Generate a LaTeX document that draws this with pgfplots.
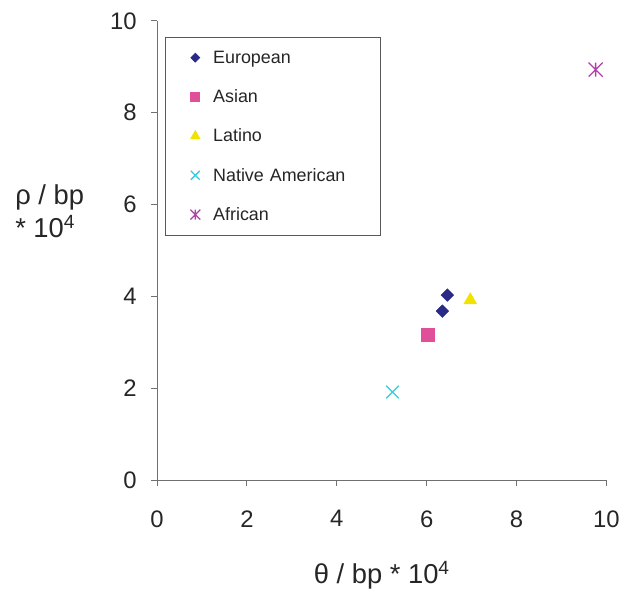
\documentclass[border=0pt]{standalone}
\usepackage{pgfplots}
\pgfplotsset{compat=1.18}
\usepackage{fontspec}
\setmainfont{Liberation Sans}
\definecolor{cEur}{HTML}{2A2A88}
\definecolor{cAsi}{HTML}{E0509A}
\definecolor{cLat}{HTML}{F2E200}
\definecolor{cNat}{HTML}{38C8E0}
\definecolor{cAfr}{HTML}{B040A8}
\definecolor{axgray}{HTML}{707070}
\pgfdeclareplotmark{xstar}{%
  \pgfpathmoveto{\pgfqpoint{-.7071\pgfplotmarksize}{-.7071\pgfplotmarksize}}%
  \pgfpathlineto{\pgfqpoint{.7071\pgfplotmarksize}{.7071\pgfplotmarksize}}%
  \pgfpathmoveto{\pgfqpoint{-.7071\pgfplotmarksize}{.7071\pgfplotmarksize}}%
  \pgfpathlineto{\pgfqpoint{.7071\pgfplotmarksize}{-.7071\pgfplotmarksize}}%
  \pgfpathmoveto{\pgfqpoint{0pt}{-.7071\pgfplotmarksize}}%
  \pgfpathlineto{\pgfqpoint{0pt}{.7071\pgfplotmarksize}}%
  \pgfusepathqstroke}
\begin{document}
\begin{tikzpicture}
\begin{axis}[
  name=ax,
  scale only axis, width=452pt, height=462pt,
  xmin=0, xmax=10, ymin=0, ymax=10,
  xtick={0,2,...,10}, ytick={0,2,...,10},
  axis lines=left, axis line style={-, axgray, line width=1pt},
  tick align=outside, major tick length=6pt,
  tick style={axgray, line width=1pt},
  /pgf/number format/assume math mode=true,
  tick label style={font=\fontsize{24}{28}\selectfont, text=black!85},
  xticklabel style={yshift=-21pt},
  yticklabel style={xshift=-11pt},
  xlabel={θ / bp * 10\textsuperscript{4}},
  xlabel style={font=\fontsize{27.5}{32}\selectfont, text=black!85, at={(axis description cs:0.5,-0.208)}, anchor=center},
  ylabel={ρ / bp\\* 10\textsuperscript{4}},
  ylabel style={font=\fontsize{27.5}{33}\selectfont, text=black!85, rotate=-90, align=left, inner sep=0pt, at={(axis description cs:-0.316,0.585)}, anchor=west},
  legend style={at={(axis cs:0.18,9.65)}, anchor=north west, draw=black!65, line width=0.8pt,
    font=\fontsize{18}{21}\selectfont, text=black!85, row sep=21pt, inner xsep=25pt, inner ysep=11.5pt,
    text width=141pt, cells={anchor=west},
    /tikz/every odd column/.append style={column sep=11pt}},
  legend image post style={/tikz/every mark/.append style={scale=0.7}},
  legend cell align=left,
  clip=false,
]
\addplot[only marks, mark=square*, mark size=4.5pt, mark options={rotate=45}, color=cEur] coordinates {(6.35,3.68) (6.46,4.03)};
\addlegendentry{European}
\addplot[only marks, mark=square*, mark size=6.5pt, color=cAsi] coordinates {(6.02,3.16)};
\addlegendentry{Asian}
\addplot[only marks, mark=triangle*, mark size=7.5pt, color=cLat] coordinates {(6.97,3.92)};
\addlegendentry{Latino}
\addplot[only marks, mark=x, mark size=9pt, line width=1.3pt, color=cNat] coordinates {(5.24,1.92)};
\addlegendentry{Native American}
\addplot[only marks, mark=xstar, mark size=10pt, line width=1.3pt, color=cAfr] coordinates {(9.76,8.94)};
\addlegendentry{African}
\end{axis}
\path (ax.south west) ++(-158pt,-106pt) rectangle ++(623pt,589pt);
\end{tikzpicture}
\end{document}
